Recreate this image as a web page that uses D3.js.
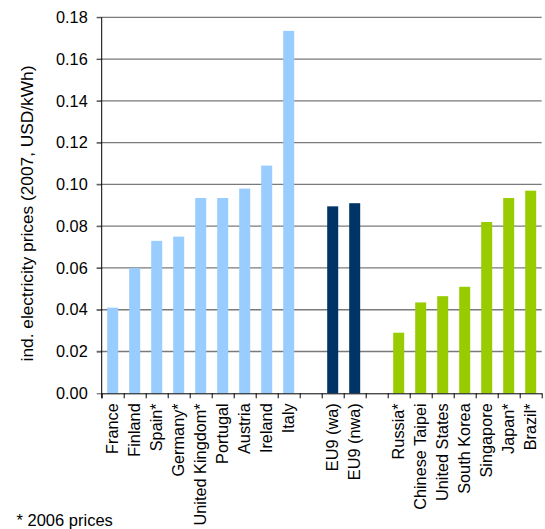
<!DOCTYPE html>
<html>
<head>
<meta charset="utf-8">
<script src="https://cdn.jsdelivr.net/npm/d3@7"></script>
<style>
  html, body { margin: 0; padding: 0; background: #fff; }
  svg { display: block; font-family: "Liberation Sans", Arial, sans-serif; }
</style>
</head>
<body>
<svg id="chart" width="545" height="529"></svg>
<script>
// Industrial electricity prices, 2007 (USD/kWh)
const europeCountries = ["France", "Finland", "Spain*", "Germany*", "United Kingdom*", "Portugal", "Austria", "Ireland", "Italy"];
const europePrices    = [0.041, 0.060, 0.073, 0.075, 0.0935, 0.0935, 0.098, 0.109, 0.1735];

const eu9Labels = ["EU9 (wa)", "EU9 (nwa)"];
const eu9Prices = [0.0895, 0.091];

const otherCountries = ["Russia*", "Chinese Taipei", "United States", "South Korea", "Singapore", "Japan*", "Brazil*"];
const otherPrices    = [0.029, 0.0435, 0.0465, 0.051, 0.082, 0.0935, 0.097];

const yTicks = [0, 0.02, 0.04, 0.06, 0.08, 0.10, 0.12, 0.14, 0.16, 0.18];
const yTitle = "ind. electricity prices (2007, USD/kWh)";
const footnote = "* 2006 prices";

const groupColors = { europe: "#99CCFF", eu9: "#003366", other: "#99CC00" };

// Slots along the category axis, with an empty slot between groups
const slots = [];
europeCountries.forEach((c, i) => slots.push({ label: c, value: europePrices[i], group: "europe" }));
slots.push({ label: "", value: null, group: "gap" });
eu9Labels.forEach((c, i) => slots.push({ label: c, value: eu9Prices[i], group: "eu9" }));
slots.push({ label: "", value: null, group: "gap" });
otherCountries.forEach((c, i) => slots.push({ label: c, value: otherPrices[i], group: "other" }));
slots.forEach((d, i) => d.key = i);

const plotLeft = 101.7, plotRight = 541.7, plotTop = 17.3, plotBottom = 393.3;
const svg = d3.select("#chart");

const x = d3.scaleBand()
  .domain(slots.map(d => d.key))
  .range([plotLeft, plotRight])
  .paddingInner(0.5)
  .paddingOuter(0.25);

const xEdges = d3.scaleLinear().domain([0, slots.length]).range([plotLeft, plotRight]);

const y = d3.scaleLinear().domain([0, 0.18]).range([plotBottom, plotTop]);

// Gridlines
svg.append("g")
  .selectAll("line")
  .data(yTicks.filter(t => t > 0))
  .join("line")
  .attr("x1", plotLeft - 5).attr("x2", plotRight)
  .attr("y1", d => y(d)).attr("y2", d => y(d))
  .attr("stroke", "#7a7a7a")
  .attr("stroke-width", 1.3);

// Bars
svg.append("g")
  .selectAll("rect")
  .data(slots.filter(d => d.value !== null))
  .join("rect")
  .attr("x", d => x(d.key))
  .attr("width", x.bandwidth())
  .attr("y", d => y(d.value))
  .attr("height", d => y(0) - y(d.value))
  .attr("fill", d => groupColors[d.group]);

// Y axis
const yAxis = svg.append("g")
  .attr("transform", `translate(${plotLeft},0)`)
  .call(d3.axisLeft(y).tickValues(yTicks).tickFormat(d3.format(".2f")).tickSize(5).tickPadding(9));
yAxis.select(".domain").remove();
yAxis.selectAll(".tick line").attr("stroke", "#555");
yAxis.selectAll(".tick text")
  .attr("font-size", "16.3px")
  .attr("font-family", "Liberation Sans, Arial, sans-serif")
  .attr("fill", "#000");
svg.append("line")
  .attr("x1", plotLeft).attr("x2", plotLeft)
  .attr("y1", plotTop).attr("y2", plotBottom + 5)
  .attr("stroke", "#000").attr("stroke-width", 1);

// X axis: baseline and boundary ticks between categories
const xAxis = svg.append("g")
  .attr("transform", `translate(0,${plotBottom})`)
  .call(d3.axisBottom(xEdges).tickValues(d3.range(slots.length + 1)).tickFormat("").tickSize(5).tickSizeOuter(0));
xAxis.select(".domain").attr("stroke", "#000");
xAxis.selectAll(".tick line").attr("stroke", "#000");

// Category labels, rotated
svg.append("g")
  .selectAll("text")
  .data(slots.filter(d => d.label))
  .join("text")
  .attr("transform", d => `translate(${x(d.key) + x.bandwidth() / 2},${plotBottom + 10}) rotate(-90)`)
  .attr("text-anchor", "end")
  .attr("dy", "0.35em")
  .attr("font-size", "16.3px")
  .attr("fill", "#000")
  .text(d => d.label);

// Y axis title
svg.append("text")
  .attr("transform", `translate(33,${(65 + 362) / 2}) rotate(-90)`)
  .attr("text-anchor", "middle")
  .attr("font-size", "17.3px")
  .attr("fill", "#000")
  .text(yTitle);

// Footnote
svg.append("text")
  .attr("x", 16.5)
  .attr("y", 526)
  .attr("font-size", "16.5px")
  .attr("fill", "#000")
  .text(footnote);
</script>
</body>
</html>
